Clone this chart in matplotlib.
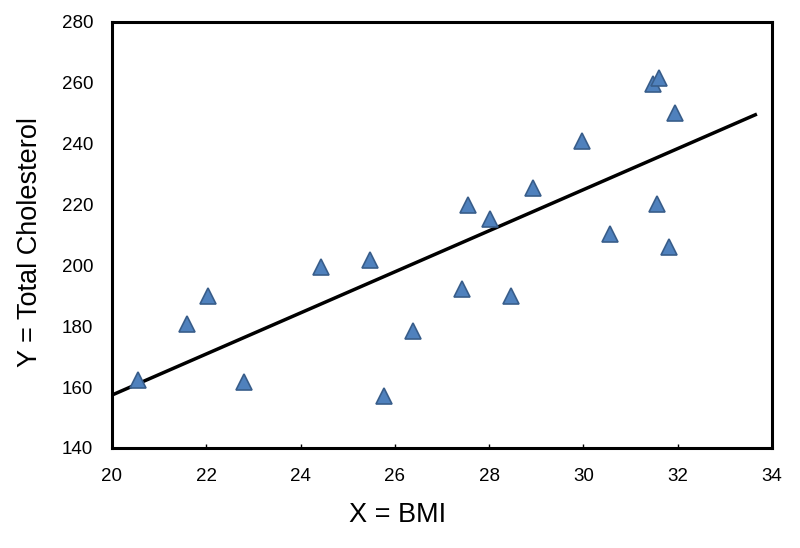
import numpy as np
import matplotlib
matplotlib.use("Agg")
import matplotlib.pyplot as plt

plt.rcParams['font.family'] = ['Liberation Sans', 'DejaVu Sans']

bmi = [20.56, 21.60, 22.04, 22.80, 24.43, 25.47, 25.78, 26.38, 27.42, 27.56,
       28.02, 28.46, 28.92, 29.96, 31.47, 31.61, 31.94, 31.57, 30.56, 31.82]
chol = [162.3, 180.7, 189.9, 161.8, 199.4, 201.8, 157.1, 178.5, 192.2, 220.0,
        215.3, 190.0, 225.3, 240.9, 259.5, 261.7, 250.2, 220.1, 210.3, 206.0]
# trendline as drawn in the reference: value at x=20 and slope per BMI unit
trend_x = [20.0, 33.68]
trend_at_20 = 157.4
trend_slope = 6.75
x_ticks = [20, 22, 24, 26, 28, 30, 32, 34]
y_ticks = [140, 160, 180, 200, 220, 240, 260, 280]

fig = plt.figure(figsize=(8.0, 5.48), dpi=100)
ax = fig.add_axes([112/800, 1 - 448/548, (772-112)/800, (448-22)/548])

tx = np.array(trend_x)
ax.plot(tx, trend_at_20 + trend_slope * (tx - 20.0), color='black', lw=2.5,
        zorder=2, clip_on=False, solid_capstyle='butt')

ax.plot(bmi, chol, linestyle='none', marker='^', markersize=11,
        markerfacecolor='#4F81BD', markeredgecolor='#385D8A', markeredgewidth=1.2, zorder=3)

ax.set_xlim(20, 34)
ax.set_ylim(140, 280)
ax.set_xticks(x_ticks)
ax.set_yticks(y_ticks)
ax.tick_params(axis='x', direction='in', length=3, width=1, labelsize=13.5, pad=14.5)
ax.tick_params(axis='y', length=0, labelsize=13.5, pad=13.5)
for s in ax.spines.values():
    s.set_linewidth(2.2)
    s.set_color('black')

ax.set_xlabel('X = BMI', fontsize=19.5, va='center')
ax.xaxis.set_label_coords(0.433, -0.157)
ax.set_ylabel('Y = Total Cholesterol', fontsize=19.5, va='center')
ax.yaxis.set_label_coords(-0.124, 0.4836)

fig.savefig('out.png', dpi=100)
